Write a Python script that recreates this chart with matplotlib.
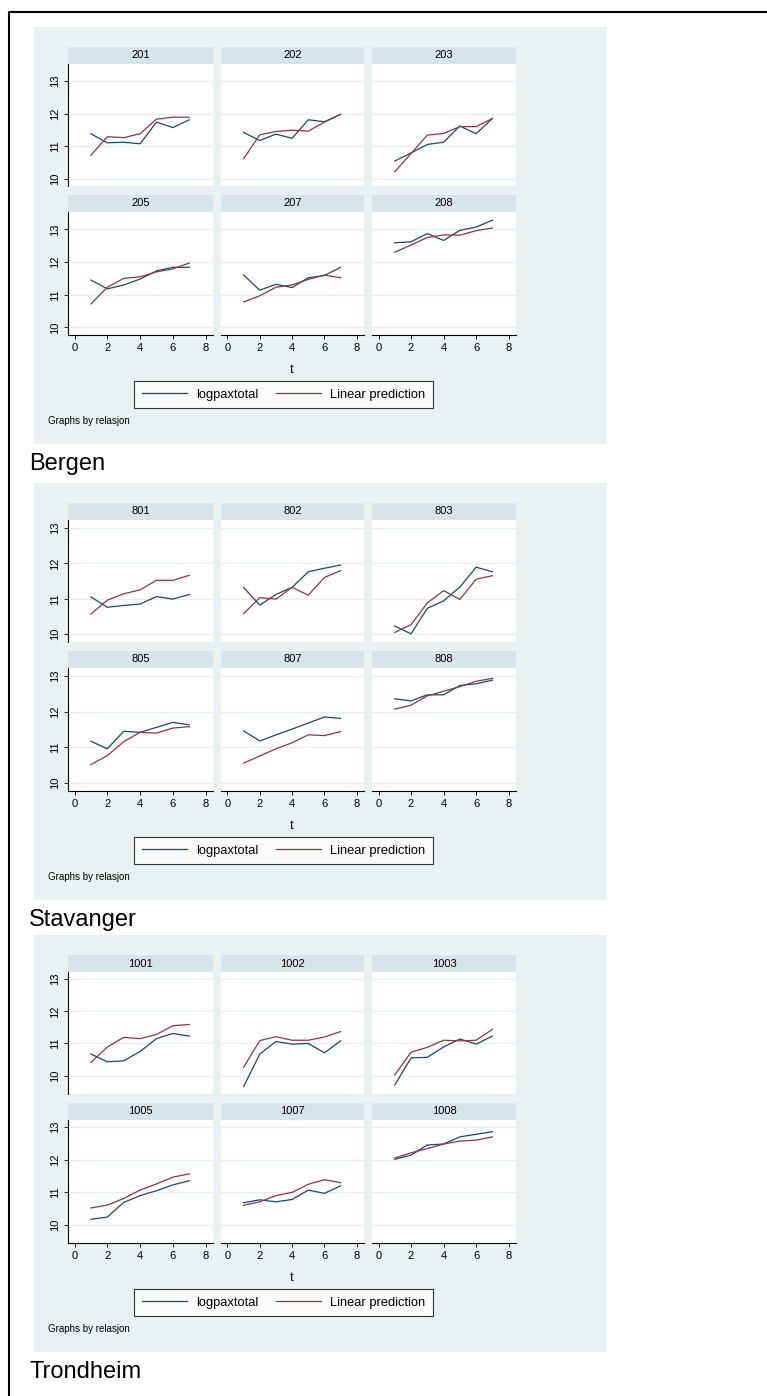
import matplotlib
matplotlib.use("Agg")
import matplotlib.pyplot as plt
from matplotlib.lines import Line2D
from matplotlib.patches import Rectangle

plt.rcParams["font.family"] = ["Liberation Sans", "DejaVu Sans"]

# =============================================================================
# DATA  (t = 1..7, one list per relasjon)
# =============================================================================
T = [1, 2, 3, 4, 5, 6, 7]

BERGEN_ROUTES = ["201", "202", "203", "205", "207", "208"]
BERGEN_LOGPAX = [
    [11.38, 11.10, 11.12, 11.07, 11.74, 11.57, 11.81],
    [11.42, 11.17, 11.37, 11.24, 11.81, 11.75, 11.98],
    [10.54, 10.79, 11.05, 11.12, 11.62, 11.38, 11.85],
    [11.45, 11.18, 11.30, 11.48, 11.73, 11.84, 11.84],
    [11.60, 11.14, 11.32, 11.22, 11.52, 11.59, 11.84],
    [12.59, 12.62, 12.87, 12.66, 12.97, 13.07, 13.28],
]
BERGEN_PRED = [
    [10.72, 11.29, 11.26, 11.38, 11.83, 11.89, 11.89],
    [10.61, 11.35, 11.45, 11.49, 11.46, 11.74, 11.98],
    [10.21, 10.77, 11.34, 11.39, 11.60, 11.60, 11.85],
    [10.72, 11.23, 11.50, 11.55, 11.70, 11.79, 11.97],
    [10.78, 10.97, 11.23, 11.30, 11.47, 11.60, 11.52],
    [12.30, 12.52, 12.75, 12.83, 12.82, 12.96, 13.04],
]

STAVANGER_ROUTES = ["801", "802", "803", "805", "807", "808"]
STAVANGER_LOGPAX = [
    [11.05, 10.76, 10.81, 10.85, 11.06, 10.99, 11.12],
    [11.32, 10.82, 11.12, 11.32, 11.76, 11.86, 11.95],
    [10.23, 10.01, 10.73, 10.94, 11.33, 11.89, 11.76],
    [11.17, 10.96, 11.45, 11.42, 11.56, 11.70, 11.63],
    [11.46, 11.18, 11.35, 11.51, 11.68, 11.85, 11.81],
    [12.36, 12.30, 12.47, 12.47, 12.73, 12.78, 12.88],
]
STAVANGER_PRED = [
    [10.57, 10.96, 11.14, 11.25, 11.52, 11.52, 11.66],
    [10.58, 11.03, 10.99, 11.32, 11.10, 11.60, 11.79],
    [10.05, 10.27, 10.88, 11.23, 10.98, 11.55, 11.65],
    [10.52, 10.77, 11.16, 11.42, 11.40, 11.54, 11.58],
    [10.56, 10.76, 10.96, 11.13, 11.35, 11.33, 11.44],
    [12.07, 12.18, 12.44, 12.57, 12.70, 12.85, 12.93],
]

TRONDHEIM_ROUTES = ["1001", "1002", "1003", "1005", "1007", "1008"]
TRONDHEIM_LOGPAX = [
    [10.67, 10.43, 10.46, 10.75, 11.15, 11.31, 11.23],
    [9.66, 10.67, 11.06, 10.98, 11.00, 10.71, 11.08],
    [9.71, 10.55, 10.57, 10.89, 11.14, 10.98, 11.23],
    [10.16, 10.23, 10.68, 10.89, 11.04, 11.22, 11.35],
    [10.67, 10.76, 10.70, 10.77, 11.06, 10.96, 11.19],
    [12.01, 12.14, 12.45, 12.48, 12.70, 12.78, 12.86],
]
TRONDHEIM_PRED = [
    [10.41, 10.89, 11.19, 11.15, 11.28, 11.55, 11.59],
    [10.26, 11.09, 11.21, 11.10, 11.10, 11.20, 11.37],
    [10.02, 10.73, 10.88, 11.10, 11.08, 11.10, 11.44],
    [10.51, 10.60, 10.80, 11.06, 11.25, 11.46, 11.56],
    [10.59, 10.70, 10.89, 10.99, 11.24, 11.38, 11.29],
    [12.05, 12.21, 12.34, 12.48, 12.57, 12.60, 12.70],
]

CITIES = ["Bergen", "Stavanger", "Trondheim"]
X_TICKS = [0, 2, 4, 6, 8]
Y_TICKS = [10, 11, 12, 13]

# =============================================================================
# STYLE (Stata s2color look)
# =============================================================================
W, H = 767, 1396
BG_COLOR    = "#EAF1F3"
STRIP_COLOR = "#D8E4EA"
GRID_COLOR  = "#E6EFF2"
NAVY        = "#1A476F"
MAROON      = "#90353B"

PANEL_TOPS = [47, 503, 955]           # pixel y of first strip top
YLIMS = [(9.77, 13.53), (9.78, 13.22), (9.43, 13.22)]
COL_X = [(68, 213), (221, 364), (372, 516)]
ROW_Y = [(0, 17, 139), (148, 165, 288)]  # strip top, plot top, plot bottom


def px_rect(x0, y0, x1, y1):
    return [x0 / W, 1 - y1 / H, (x1 - x0) / W, (y1 - y0) / H]


def fx(x):
    return x / W


def fy(y):
    return 1 - y / H


def draw_panel(fig, top, routes, logpax, pred, ylim, city):
    # light background of the Stata graph region
    fig.add_artist(Rectangle((fx(34), fy(top + 397)), (607 - 34) / W, 417 / H,
                             transform=fig.transFigure, facecolor=BG_COLOR,
                             edgecolor="none", zorder=0))

    for i, route in enumerate(routes):
        row, col = divmod(i, 3)
        s_top, p_top, p_bot = ROW_Y[row]
        x0, x1 = COL_X[col]

        sax = fig.add_axes(px_rect(x0, top + s_top, x1, top + p_top))
        sax.set_facecolor(STRIP_COLOR)
        sax.set_xticks([])
        sax.set_yticks([])
        for sp in sax.spines.values():
            sp.set_visible(False)
        sax.text(0.5, 0.5, route, ha="center", va="center", fontsize=8,
                 transform=sax.transAxes)

        ax = fig.add_axes(px_rect(x0, top + p_top, x1, top + p_bot))
        ax.set_facecolor("white")
        ax.plot(T, logpax[i], color=NAVY, lw=0.9)
        ax.plot(T, pred[i], color=MAROON, lw=0.9)
        ax.set_xlim(-0.4, 8.45)
        ax.set_ylim(*ylim)
        for yv in Y_TICKS:
            ax.axhline(yv, color=GRID_COLOR, lw=1.0, zorder=0)
        for sp in ax.spines.values():
            sp.set_visible(False)

        if col == 0:
            ax.spines["left"].set_visible(True)
            ax.spines["left"].set_linewidth(0.8)
            ax.set_yticks(Y_TICKS)
            ax.tick_params(axis="y", length=3, width=0.6, pad=2.5,
                           labelsize=8)
            for lab in ax.get_yticklabels():
                lab.set_rotation(90)
                lab.set_va("center")
        else:
            ax.set_yticks([])

        if row == 1:
            ax.spines["bottom"].set_visible(True)
            ax.spines["bottom"].set_linewidth(0.8)
            ax.set_xticks(X_TICKS)
            ax.tick_params(axis="x", length=3, width=0.6, pad=2.5,
                           labelsize=8)
        else:
            ax.set_xticks([])

    # shared x title
    fig.text(fx(292), fy(top + 323), "t", ha="center", va="center",
             fontsize=9.5)

    # legend
    handles = [Line2D([], [], color=NAVY, lw=0.9),
               Line2D([], [], color=MAROON, lw=0.9)]
    leg = fig.legend(handles, ["logpaxtotal", "Linear prediction"],
                     loc="center", bbox_to_anchor=(fx(283.5), fy(top + 347.5)),
                     ncol=2, fontsize=9.3, frameon=True, fancybox=False,
                     handlelength=3.5, handletextpad=0.7, columnspacing=1.4,
                     borderpad=0.6, borderaxespad=0)
    leg.get_frame().set_edgecolor("black")
    leg.get_frame().set_linewidth(0.8)

    fig.text(fx(48), fy(top + 374), "Graphs by relasjon", ha="left",
             va="center", fontsize=7.0)

    fig.text(fx(29), fy(top + 417), city, ha="left", va="center",
             fontsize=17)


def main():
    fig = plt.figure(figsize=(W / 100, H / 100), dpi=100)
    fig.patch.set_facecolor("white")

    panels = [
        (BERGEN_ROUTES, BERGEN_LOGPAX, BERGEN_PRED),
        (STAVANGER_ROUTES, STAVANGER_LOGPAX, STAVANGER_PRED),
        (TRONDHEIM_ROUTES, TRONDHEIM_LOGPAX, TRONDHEIM_PRED),
    ]
    for top, ylim, city, (routes, lp, pr) in zip(PANEL_TOPS, YLIMS, CITIES, panels):
        draw_panel(fig, top, routes, lp, pr, ylim, city)

    # outer frame (left and top edges)
    fig.add_artist(Line2D([fx(9), fx(9), fx(767)], [fy(1396), fy(12), fy(12)],
                          transform=fig.transFigure, color="black", lw=1.5))

    fig.savefig("out.png", dpi=100)
    plt.close(fig)


if __name__ == "__main__":
    main()
